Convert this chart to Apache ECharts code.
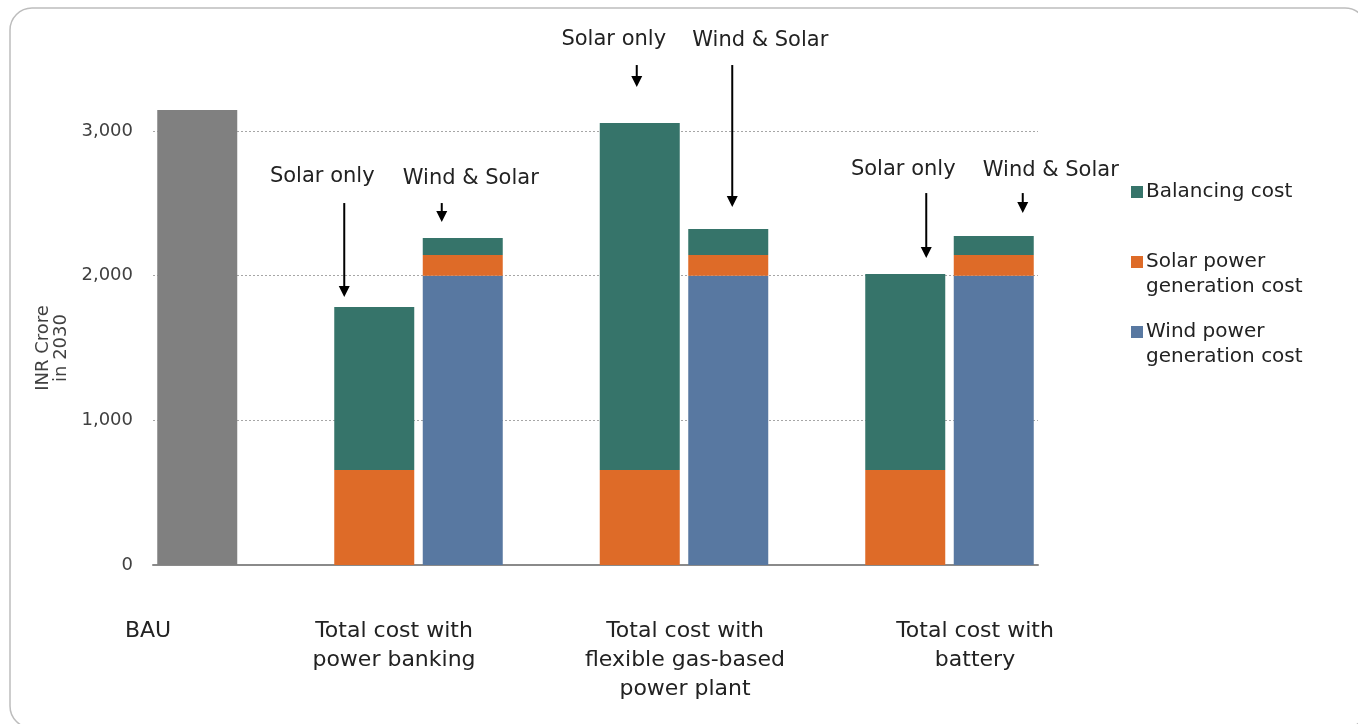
<!DOCTYPE html>
<html>
<head>
<meta charset="utf-8">
<script src="https://cdn.jsdelivr.net/npm/echarts@6/dist/echarts.min.js"></script>
<style>
html,body{margin:0;padding:0;background:#fff;}
#c{width:1358px;height:724px;}
</style>
</head>
<body>
<div id="c"></div>
<script>
// ---- data ----
const slots = ['BAU', 'gap1', 'PB-Solar', 'PB-Wind', 'gap2', 'Gas-Solar', 'Gas-Wind', 'gap3', 'Bat-Solar', 'Bat-Wind'];
const bauValues       = [3145, '-', '-', '-', '-', '-', '-', '-', '-', '-'];
const windValues      = ['-', '-', '-', 2000, '-', '-', 2000, '-', '-', 2000];
const solarValues     = ['-', '-', 657, 143, '-', 657, 143, '-', 657, 143];
const balancingValues = ['-', '-', 1126, 117, '-', 2398, 180, '-', 1354, 131];
const yTicks = [0, 1000, 2000, 3000];
const groupLabels = ['BAU', 'Total cost with\npower banking', 'Total cost with\nflexible gas-based\npower plant', 'Total cost with\nbattery'];
const seriesNames = ['Balancing cost', 'Solar power\ngeneration cost', 'Wind power\ngeneration cost'];
// annotations: slot, text, text value-height, arrow start value, arrow tip value
const annoSlots  = ['PB-Solar', 'PB-Wind', 'Gas-Solar', 'Gas-Wind', 'Bat-Solar', 'Bat-Wind'];
const annoTexts  = ['Solar only', 'Wind & Solar', 'Solar only', 'Wind & Solar', 'Solar only', 'Wind & Solar'];
const annoTextV  = [2682, 2668, 3629, 3622, 2737, 2730];
const annoFromV  = [2502, 2502, 3456, 3456, 2571, 2571];
const annoToV    = [1852, 2371, 3304, 2475, 2122, 2433];

// ---- styling (positions) ----
const annoTextDx  = [-52, 8, -26, 32, -2, 57];
const annoArrowDx = [-30, -21, -3, 4, 21, 29];
const groupLabelX = [148, 394, 685, 975];
const legendY = [192, 262, 332];

const FONT = 'DejaVu Sans';
const TXT = '#222222';
const C_BAL = '#36746a', C_SOL = '#de6b28', C_WIND = '#5878a1', C_BAU = '#808080';
const legendColors = [C_BAL, C_SOL, C_WIND];

const chart = echarts.init(document.getElementById('c'), null, {renderer: 'canvas'});
const option = {
  animation: false,
  backgroundColor: '#fff',
  textStyle: {fontFamily: FONT},
  grid: {left: 153, right: 320, top: 131, bottom: 159, containLabel: false},
  xAxis: {
    type: 'category',
    data: slots,
    axisLine: {lineStyle: {color: '#8a8a8a', width: 2}},
    axisTick: {show: false},
    axisLabel: {show: false}
  },
  yAxis: {
    type: 'value',
    min: 0, max: 3000, interval: 1000,
    name: 'INR Crore\nin 2030',
    nameLocation: 'middle',
    nameRotate: 90,
    nameGap: 80,
    nameTextStyle: {fontFamily: FONT, fontSize: 18, color: '#404040', lineHeight: 18},
    axisLine: {show: false},
    axisTick: {show: false},
    axisLabel: {
      fontFamily: FONT, fontSize: 18, color: '#404040', margin: 20,
      formatter: v => yTicks.includes(v) ? v.toLocaleString('en-US') : ''
    },
    splitLine: {lineStyle: {color: '#a6a6a6', type: [2, 2], width: 1}}
  },
  series: [
    {name: 'BAU', type: 'bar', stack: 't', data: bauValues, barWidth: 80, clip: false,
     itemStyle: {color: C_BAU}},
    {name: seriesNames[2], type: 'bar', stack: 't', data: windValues, barWidth: 80, clip: false,
     itemStyle: {color: C_WIND}},
    {name: seriesNames[1], type: 'bar', stack: 't', data: solarValues, barWidth: 80, clip: false,
     itemStyle: {color: C_SOL}},
    {name: seriesNames[0], type: 'bar', stack: 't', data: balancingValues, barWidth: 80, clip: false,
     itemStyle: {color: C_BAL}}
  ]
};
chart.setOption(option);

// annotations built from the chart's own scales
const g = [];
g.push({type: 'rect', shape: {x: 10, y: 8, width: 1357, height: 720, r: 22},
        style: {fill: 'none', stroke: '#bdbdbd', lineWidth: 1.5}, z: 0, silent: true});
for (let i = 0; i < annoSlots.length; i++) {
  const cx = chart.convertToPixel({xAxisIndex: 0}, annoSlots[i]);
  const ty = chart.convertToPixel({yAxisIndex: 0}, annoTextV[i]);
  const y1 = chart.convertToPixel({yAxisIndex: 0}, annoFromV[i]);
  const y2 = chart.convertToPixel({yAxisIndex: 0}, annoToV[i]);
  const ax = cx + annoArrowDx[i];
  g.push({type: 'text', x: cx + annoTextDx[i], y: ty, z: 10,
          style: {text: annoTexts[i], fontFamily: FONT, fontSize: 21, fill: TXT,
                  align: 'center', verticalAlign: 'middle'}});
  g.push({type: 'line', z: 10, shape: {x1: ax, y1: y1, x2: ax, y2: y2 - 8},
          style: {stroke: '#000', lineWidth: 2}});
  g.push({type: 'polygon', z: 10, shape: {points: [[ax - 5.5, y2 - 11], [ax + 5.5, y2 - 11], [ax, y2]]},
          style: {fill: '#000'}});
}
for (let i = 0; i < groupLabels.length; i++) {
  g.push({type: 'text', x: groupLabelX[i], y: 617, z: 10,
          style: {text: groupLabels[i], fontFamily: FONT, fontSize: 22, fill: TXT,
                  align: 'center', verticalAlign: 'top', lineHeight: 29}});
}
for (let i = 0; i < seriesNames.length; i++) {
  g.push({type: 'rect', z: 10, shape: {x: 1131, y: legendY[i] - 6, width: 12, height: 12},
          style: {fill: legendColors[i]}});
  g.push({type: 'text', x: 1146, y: legendY[i] - 12.5, z: 10,
          style: {text: seriesNames[i], fontFamily: FONT, fontSize: 20, fill: TXT,
                  align: 'left', verticalAlign: 'top', lineHeight: 25}});
}
chart.setOption({graphic: g});
</script>
</body>
</html>
